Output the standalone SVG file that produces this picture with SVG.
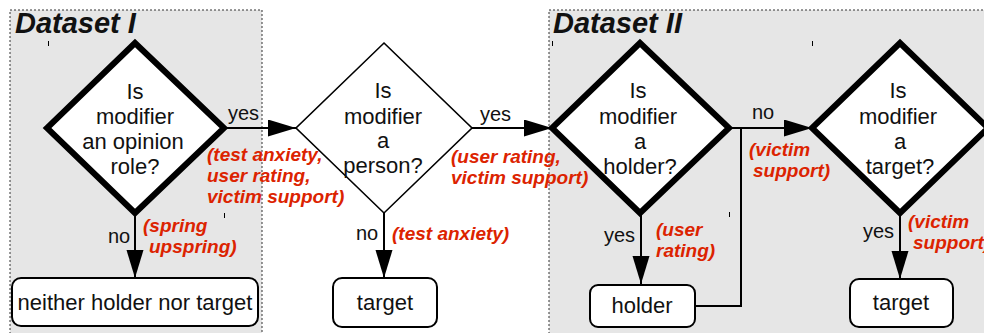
<svg xmlns="http://www.w3.org/2000/svg" width="984" height="333" viewBox="0 0 984 333">
<defs>
<marker id="arr" markerUnits="userSpaceOnUse" markerWidth="28" markerHeight="18" refX="28" refY="8.5" orient="auto">
<path d="M0,0 L28,8.5 L0,17 Z" fill="#000"/>
</marker>
<style>
.panel{fill:#e6e6e6;stroke:#333;stroke-width:1;stroke-dasharray:2,2}
.thick{fill:#fff;stroke:#000;stroke-width:6;stroke-linejoin:miter}
.thin{fill:#fff;stroke:#000;stroke-width:1.6}
.box{fill:#fff;stroke:#000;stroke-width:2}
.t{font-family:"Liberation Sans",Arial,sans-serif;font-size:22px;fill:#111;text-anchor:middle}
.lbl{font-family:"Liberation Sans",Arial,sans-serif;font-size:20px;fill:#111}
.red{font-family:"Liberation Sans",Arial,sans-serif;font-size:19px;font-weight:bold;font-style:italic;fill:#dc2300}
.title{font-family:"Liberation Sans",Arial,sans-serif;font-size:29px;font-weight:bold;font-style:italic;fill:#111}
.edge{fill:none;stroke:#000;stroke-width:2}
.tick{stroke:#000;stroke-width:1}
</style>
</defs>
<g id="panel1">
<rect class="panel" x="10" y="10" width="252" height="340"/>
<text class="title" x="15" y="33">Dataset I</text>
</g>
<g id="panel2">
<rect class="panel" x="549" y="10" width="450" height="340"/>
<text class="title" x="553" y="33">Dataset II</text>
</g>
<g id="ticks">
<line class="tick" x1="48.5" y1="41" x2="48.5" y2="46"/>
<line class="tick" x1="224.5" y1="213" x2="224.5" y2="218"/>
<line class="tick" x1="552.5" y1="41" x2="552.5" y2="46"/>
<line class="tick" x1="812.5" y1="41" x2="812.5" y2="46"/>
<line class="tick" x1="729.5" y1="212" x2="729.5" y2="217"/>
</g>
<g id="connectors">
<line class="edge" x1="135" y1="213" x2="135" y2="278" marker-end="url(#arr)"/>
<line class="edge" x1="224" y1="128" x2="296" y2="128" marker-end="url(#arr)"/>
<line class="edge" x1="384" y1="213" x2="384" y2="278" marker-end="url(#arr)"/>
<line class="edge" x1="472" y1="128" x2="552" y2="128" marker-end="url(#arr)"/>
<line class="edge" x1="641" y1="213" x2="641" y2="284" marker-end="url(#arr)"/>
<line class="edge" x1="730" y1="128" x2="812" y2="128" marker-end="url(#arr)"/>
<polyline class="edge" points="695,306 741,306 741,128"/>
<line class="edge" x1="900" y1="213" x2="900" y2="279" marker-end="url(#arr)"/>
<text class="lbl" x="228" y="120">yes</text>
<text class="red" x="207" y="161">(test anxiety,</text>
<text class="red" x="207" y="182">user rating,</text>
<text class="red" x="207" y="203">victim support)</text>
<text class="lbl" x="108" y="243">no</text>
<text class="red" x="143" y="232">(spring</text>
<text class="red" x="149" y="253">upspring)</text>
<text class="lbl" x="356" y="240">no</text>
<text class="red" x="392" y="240">(test anxiety)</text>
<text class="lbl" x="480" y="121">yes</text>
<text class="red" x="451" y="163">(user rating,</text>
<text class="red" x="451" y="184">victim support)</text>
<text class="lbl" x="604" y="242">yes</text>
<text class="red" x="656" y="236">(user</text>
<text class="red" x="656" y="257">rating)</text>
<text class="lbl" x="752" y="119">no</text>
<text class="red" x="749" y="156">(victim</text>
<text class="red" x="753" y="177">support)</text>
<text class="lbl" x="863" y="238">yes</text>
<text class="red" x="908" y="228">(victim</text>
<text class="red" x="913" y="249">support)</text>
</g>
<g id="d1">
<polygon class="thick" points="135,43 224,128 135,213 47,128"/>
<text class="t" x="135" y="99">Is</text>
<text class="t" x="135" y="124">modifier</text>
<text class="t" x="133" y="149">an opinion</text>
<text class="t" x="135" y="174">role?</text>
</g>
<g id="n1">
<rect class="box" x="12" y="278" width="246" height="48" rx="9"/>
<text class="t" x="135" y="310">neither holder nor target</text>
</g>
<g id="d2">
<polygon class="thin" points="384,43 472,128 384,213 296,128"/>
<text class="t" x="383" y="98">Is</text>
<text class="t" x="383" y="124">modifier</text>
<text class="t" x="383" y="148">a</text>
<text class="t" x="383" y="173">person?</text>
</g>
<g id="n2">
<rect class="box" x="333" y="278" width="104" height="49" rx="9"/>
<text class="t" x="385" y="310">target</text>
</g>
<g id="d3">
<polygon class="thick" points="640,43 729,128 640,213 552,128"/>
<text class="t" x="638" y="98">Is</text>
<text class="t" x="638" y="124">modifier</text>
<text class="t" x="640" y="149">a</text>
<text class="t" x="640" y="174">holder?</text>
</g>
<g id="n3">
<rect class="box" x="590" y="285" width="105" height="42" rx="8"/>
<text class="t" x="642" y="313">holder</text>
</g>
<g id="d4">
<polygon class="thick" points="900,43 988,128 900,213 812,128"/>
<text class="t" x="898" y="98">Is</text>
<text class="t" x="898" y="124">modifier</text>
<text class="t" x="900" y="149">a</text>
<text class="t" x="900" y="174">target?</text>
</g>
<g id="n4">
<rect class="box" x="850" y="279" width="103" height="48" rx="9"/>
<text class="t" x="901" y="310">target</text>
</g>
</svg>
